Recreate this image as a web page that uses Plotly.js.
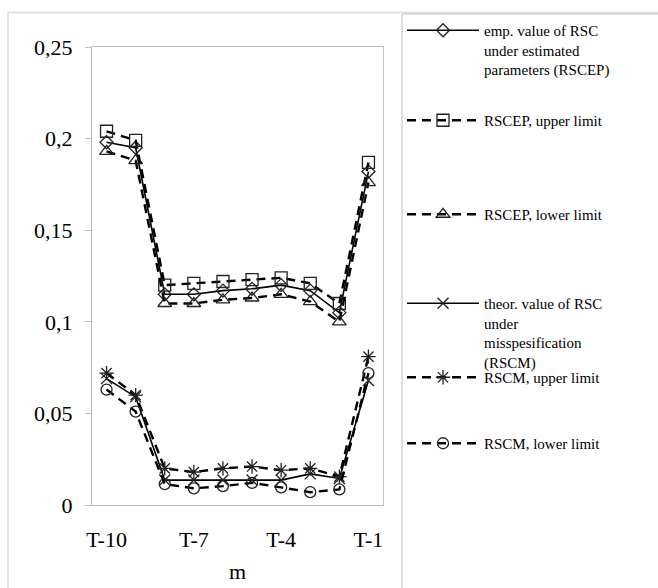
<!DOCTYPE html>
<html>
<head>
<meta charset="utf-8">
<script src="https://cdn.plot.ly/plotly-3.0.1.min.js"></script>
<style>html,body{margin:0;padding:0;background:#fff;}#chart{width:658px;height:588px;}</style>
</head>
<body>
<div id="chart"></div>
<script>
var categories = ['T-10','T-9','T-8','T-7','T-6','T-5','T-4','T-3','T-2','T-1'];
var tickLabels = ['T-10','T-7','T-4','T-1'];
var rscep    = [0.198, 0.195, 0.115, 0.115, 0.117, 0.118, 0.120, 0.117, 0.105, 0.182];
var rscepUp  = [0.204, 0.199, 0.120, 0.121, 0.122, 0.123, 0.124, 0.121, 0.110, 0.187];
var rscepLow = [0.193, 0.188, 0.110, 0.110, 0.112, 0.113, 0.115, 0.111, 0.100, 0.176];
var rscm     = [0.069, 0.059, 0.0136, 0.0136, 0.0136, 0.0136, 0.0136, 0.017, 0.0145, 0.068];
var rscmUp   = [0.072, 0.060, 0.020, 0.018, 0.020, 0.021, 0.019, 0.020, 0.0155, 0.081];
var rscmLow  = [0.063, 0.051, 0.0114, 0.0091, 0.0103, 0.0121, 0.0096, 0.007, 0.0085, 0.072];
var names = [
  'emp. value of RSC<br>under estimated<br>parameters (RSCEP)',
  'RSCEP, upper limit',
  'RSCEP, lower limit',
  'theor. value of RSC<br>under<br>misspesification<br>(RSCM)',
  'RSCM, upper limit',
  'RSCM, lower limit'
];

// plot area in px
var L = 92, R = 383, T = 47, B = 505, W = 658, H = 588;
function px2x(px){ return (px - L) / (R - L); }
function px2y(py){ return (B - py) / (B - T); }

var serif = 'Liberation Serif, Times New Roman, serif';
var solid = {color:'#000', width:1.6, dash:'solid'};
var dashed = {color:'#000', width:2.4, dash:'9px,6px'};
var mk = function(sym, size){ return {symbol:sym, size:size, color:'#222', line:{color:'#222', width:1.3}}; };

var series = [rscep, rscepUp, rscepLow, rscm, rscmUp, rscmLow];
var lines = [solid, dashed, dashed, solid, dashed, dashed];
var markers = [mk('diamond-open',10), mk('square-open',12), mk('triangle-up-open',12),
               mk('x-thin-open',11), mk('asterisk-open',12), mk('circle-open',11)];
var legendIds = ['legend','legend2','legend3','legend4','legend5','legend6'];
var legendTops = [31, 121, 215, 304, 378, 444];

var data = series.map(function(s, i){
  return {x: categories, y: s, type:'scatter', mode:'lines+markers', name: names[i],
          line: lines[i], marker: markers[i], legend: legendIds[i], cliponaxis:false};
});

var layout = {
  width: W, height: H,
  margin: {l:L, r:W-R, t:T, b:H-B, pad:0},
  paper_bgcolor:'#fff', plot_bgcolor:'#fff',
  separators: ', ',
  font: {family: serif, color:'#000', size:22},
  showlegend: true,
  xaxis: {
    type:'category', range:[-0.5, 9.5], tickmode:'array', tickvals: tickLabels, ticktext: tickLabels,
    showgrid:false, zeroline:false, showline:true, mirror:true, linecolor:'#bfbfbf', linewidth:1,
    ticks:'', tickfont:{family:serif, size:22}, ticklabelstandoff: 15,
    title:{text:'m', font:{family:serif, size:22}, standoff: 12}
  },
  yaxis: {
    range:[0, 0.25], tickmode:'array', tickvals:[0,0.05,0.1,0.15,0.2,0.25],
    showgrid:false, zeroline:false, showline:true, mirror:true, linecolor:'#bfbfbf', linewidth:1,
    ticks:'outside', ticklen:6, tickcolor:'#bfbfbf', tickfont:{family:serif, size:22}, ticklabelstandoff: 8
  },
  shapes: [
    {type:'rect', xref:'paper', yref:'paper', x0:px2x(8), x1:px2x(662), y0:px2y(592), y1:px2y(12.5),
     line:{color:'#d9d9d9', width:1.5}, fillcolor:'rgba(0,0,0,0)', layer:'below'},
    {type:'rect', xref:'paper', yref:'paper', x0:px2x(402), x1:px2x(664), y0:px2y(594), y1:px2y(14),
     line:{color:'#bdbdbd', width:1}, fillcolor:'rgba(0,0,0,0)', layer:'below'}
  ]
};
legendIds.forEach(function(id, i){
  layout[id] = {x: px2x(402), xanchor:'left', y: px2y(legendTops[i] - 17), yanchor:'top',
    bgcolor:'rgba(0,0,0,0)', borderwidth:0, itemwidth:72, valign:'top',
    font:{family:serif, size:15, color:'#000'}, itemclick:false, itemdoubleclick:false};
});

Plotly.newPlot('chart', data, layout, {displayModeBar:false, staticPlot:true});
</script>
</body>
</html>
